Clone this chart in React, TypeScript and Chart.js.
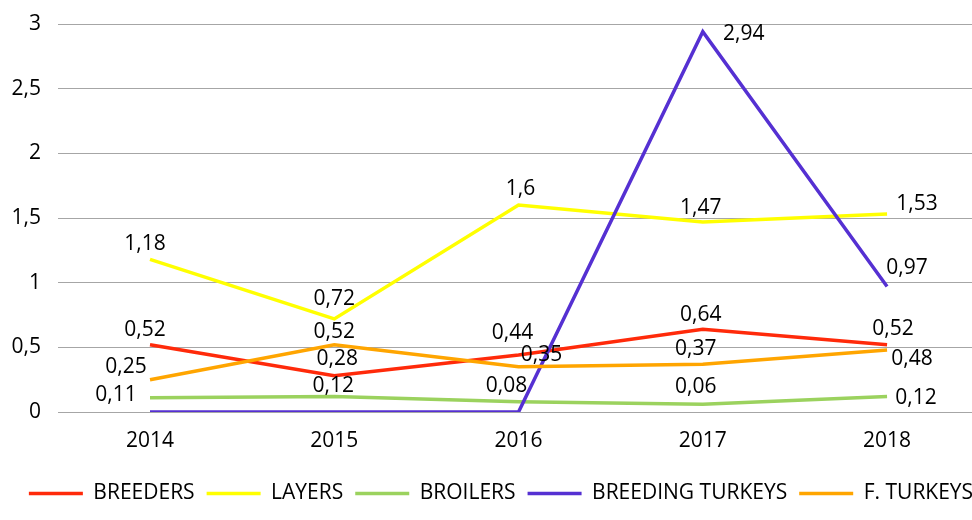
import React, { useEffect, useRef } from "react";
import { Chart, registerables } from "chart.js";

Chart.register(...registerables);

// ---- data ----
const years = ["2014", "2015", "2016", "2017", "2018"];
const yTickValues = [0, 0.5, 1, 1.5, 2, 2.5, 3];
const seriesNames = ["BREEDERS", "LAYERS", "BROILERS", "BREEDING TURKEYS", "F. TURKEYS"];
const breeders = [0.52, 0.28, 0.44, 0.64, 0.52];
const layers = [1.18, 0.72, 1.6, 1.47, 1.53];
const broilers = [0.11, 0.12, 0.08, 0.06, 0.12];
const breedingTurkeys = [0, 0, 0, 2.94, 0.97];
const fTurkeys = [0.25, 0.52, 0.35, 0.37, 0.48];
const seriesValues = [breeders, layers, broilers, breedingTurkeys, fTurkeys];

// ---- styles ----
const seriesColors = ["#FF2A0A", "#FFFF00", "#9BD25E", "#5530D2", "#FFA500"];
// label placement offsets (dx, dy) from each point; null = no label
const labelOffsets: ([number, number] | null)[][] = [
  [[-5, -16], [3, -18], [-6, -24], [-2, -16], [6, -17]],
  [[-5, -17], [0, -21], [2, -18], [-2, -15], [30, -12]],
  [[-34, -4], [-1, -12], [-12, -17], [-7, -19], [29, 0]],
  [null, null, null, [41, 1], [20, -20]],
  [[-24, -14], [0, -14], [23, -13], [-7, -17], [25, 8]],
];
const FONT_FAMILY = '"Open Sans", "Noto Sans", sans-serif';
const FONT_SIZE = 21;
const LEGEND_SHIFT = 15;
const fmt = (v: number) => String(v).replace(".", ",");

const dataLabelPlugin = {
  id: "dataLabels",
  afterLayout(chart: any) {
    const lg = chart.legend;
    if (lg) {
      lg.left += LEGEND_SHIFT;
      lg.right += LEGEND_SHIFT;
    }
  },
  afterDatasetsDraw(chart: any) {
    const ctx = chart.ctx;
    ctx.save();
    ctx.font = `${FONT_SIZE}px ${FONT_FAMILY}`;
    ctx.fillStyle = "#000";
    ctx.textAlign = "center";
    ctx.textBaseline = "alphabetic";
    chart.data.datasets.forEach((_ds: any, di: number) => {
      const meta = chart.getDatasetMeta(di);
      meta.data.forEach((pt: any, i: number) => {
        const off = labelOffsets[di][i];
        if (!off) return;
        ctx.fillText(fmt(seriesValues[di][i]), pt.x + off[0], pt.y + off[1] + FONT_SIZE * 0.357);
      });
    });
    ctx.restore();
  },
};

export default function App() {
  const ref = useRef<HTMLCanvasElement | null>(null);
  useEffect(() => {
    document.body.style.margin = "0";
    if (!ref.current) return;
    const chart = new Chart(ref.current, {
      type: "line",
      data: {
        datasets: seriesNames.map((name, di) => ({
          label: name,
          data: seriesValues[di].map((v, i) => ({ x: i, y: v })),
          borderColor: seriesColors[di],
          backgroundColor: seriesColors[di],
          borderWidth: 3.5,
          pointRadius: 0,
          pointHoverRadius: 0,
          tension: 0,
          fill: false,
          order: seriesNames.length - 1 - di,
        })),
      },
      options: {
        animation: false,
        responsive: false,
        events: [],
        layout: { padding: { top: 24, bottom: 6, left: 0, right: 0 } },
        scales: {
          x: {
            type: "linear",
            min: -0.4993,
            max: 4.461,
            grid: { display: false, drawTicks: false },
            border: { display: false },
            afterFit: (s: any) => {
              s.height = 59;
              s.paddingLeft = 0;
              s.paddingRight = 0;
            },
            afterBuildTicks: (s: any) => {
              s.ticks = years.map((_y, i) => ({ value: i }));
            },
            ticks: {
              padding: 16,
              autoSkip: false,
              maxRotation: 0,
              color: "#000",
              font: { family: FONT_FAMILY, size: FONT_SIZE },
              callback: (v: any) => {
                const n = Number(v);
                return Number.isInteger(n) && years[n] !== undefined ? years[n] : "";
              },
            },
          },
          y: {
            min: 0,
            max: 3,
            afterFit: (s: any) => {
              s.width = 58;
              s.paddingTop = 0;
              s.paddingBottom = 0;
            },
            afterBuildTicks: (s: any) => {
              s.ticks = yTickValues.map((v) => ({ value: v }));
            },
            grid: { color: "#A6A6A6", lineWidth: 1, drawTicks: false },
            border: { display: false },
            ticks: {
              padding: 17,
              color: "#000",
              font: { family: FONT_FAMILY, size: FONT_SIZE },
              callback: (v: any) => fmt(Number(v)),
            },
          },
        },
        plugins: {
          legend: {
            position: "bottom",
            labels: {
              usePointStyle: true,
              pointStyle: "line",
              pointStyleWidth: 54,
              padding: 12,
              color: "#000",
              font: { family: FONT_FAMILY, size: FONT_SIZE },
              sort: (a: any, b: any) => a.datasetIndex - b.datasetIndex,
            },
          },
          tooltip: { enabled: false },
        },
      },
      plugins: [dataLabelPlugin],
    } as any);
    return () => chart.destroy();
  }, []);
  return (
    <div style={{ width: 972, height: 520, background: "#fff" }}>
      <canvas ref={ref} width={972} height={520} style={{ display: "block" }} />
    </div>
  );
}
